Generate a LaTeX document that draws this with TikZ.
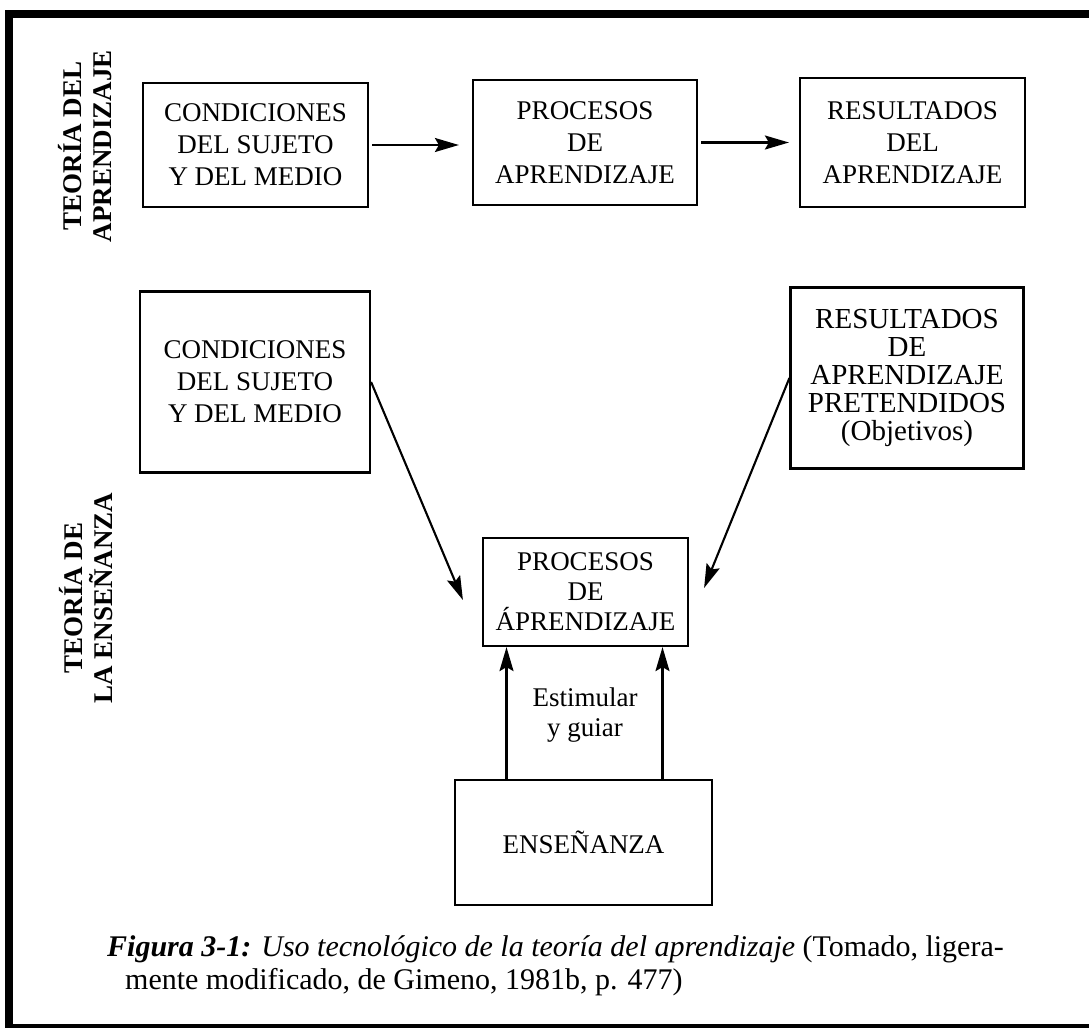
\documentclass[tikz,border=0pt]{standalone}
\usepackage{fontspec}
\setmainfont{Liberation Serif}
\usetikzlibrary{arrows.meta,calc}
\begin{document}
\begin{tikzpicture}[x=1pt,y=-1pt,
  box/.style={draw,line width=2.2pt,align=center,inner sep=0pt,
    font=\fontsize{27}{32}\selectfont},
  arr/.style={line width=2.1pt,-{Stealth[length=24pt,width=14pt,inset=4pt]}},
  side/.style={rotate=90,align=center,inner sep=0pt,
    font=\fontsize{27}{30}\selectfont\bfseries},
  lbl/.style={align=center,inner sep=0pt,font=\fontsize{27}{30}\selectfont}]
\useasboundingbox (0,0) rectangle (1089,1028);
% frame
\fill (5,10) rectangle (1089,18);
\fill (5,10) rectangle (13,1028);
\fill (5,1024) rectangle (1089,1028);
% side labels
\node[side] (t1) at (85,146) {TEORÍA DEL\\APRENDIZAJE};
\node[side] (t2) at (86,598) {TEORÍA DE\\LA ENSEÑANZA};
% top row
\node[box,minimum width=225pt,minimum height=124pt] (A) at (255.5,145)
  {CONDICIONES\\DEL SUJETO\\Y DEL MEDIO};
\node[box,minimum width=224pt,minimum height=125pt] (B) at (585,142.5)
  {PROCESOS\\DE\\APRENDIZAJE};
\node[box,minimum width=225pt,minimum height=129pt] (C) at (912.5,142.5)
  {RESULTADOS\\DEL\\APRENDIZAJE};
% middle
\node[box,minimum width=230pt,minimum height=181pt] (D) at (255,382)
  {CONDICIONES\\DEL SUJETO\\Y DEL MEDIO};
\node[box,minimum width=233pt,minimum height=181pt,
  font=\fontsize{29}{28}\selectfont] (E) at (907,378)
  {RESULTADOS\\DE\\APRENDIZAJE\\PRETENDIDOS\\(Objetivos)};
\node[box,minimum width=205pt,minimum height=108pt,
  font=\fontsize{27}{30}\selectfont] (F) at (585.5,592)
  {PROCESOS\\DE\\ÁPRENDIZAJE};
\node[box,minimum width=257pt,minimum height=125pt] (G) at (583.5,842.5)
  {ENSEÑANZA};
\node[lbl] (S) at (585,715) {Estimular\\y guiar};
% connectors
\draw[arr,shorten <=3pt,shorten >=13pt] (A.east) -- (A.east -| B.west);
\draw[arr,shorten <=3pt,shorten >=10pt] (B.east) -- (B.east -| C.west);
\draw[arr] (D.east) -- ($(F.west)+(-19,8)$);
\draw[arr] (E.west) -- ($(F.east)+(15,-4)$);
\coordinate (g1) at ($(G.north)+(-77,0)$);
\coordinate (g2) at ($(G.north)+(79,0)$);
\draw[arr] (g1) -- (g1 |- F.south);
\draw[arr] (g2) -- (g2 |- F.south);
% caption
\node[anchor=north west,align=left,inner sep=0pt,
  font=\fontsize{30}{33}\selectfont] (cap) at (107,935)
  {{\bfseries\itshape Figura 3-1:} {\itshape Uso tecnológico de la teoría del aprendizaje} (Tomado, ligera-\\
   \hspace*{18pt}mente modificado, de Gimeno, 1981b, p. 477)};
\end{tikzpicture}
\end{document}
